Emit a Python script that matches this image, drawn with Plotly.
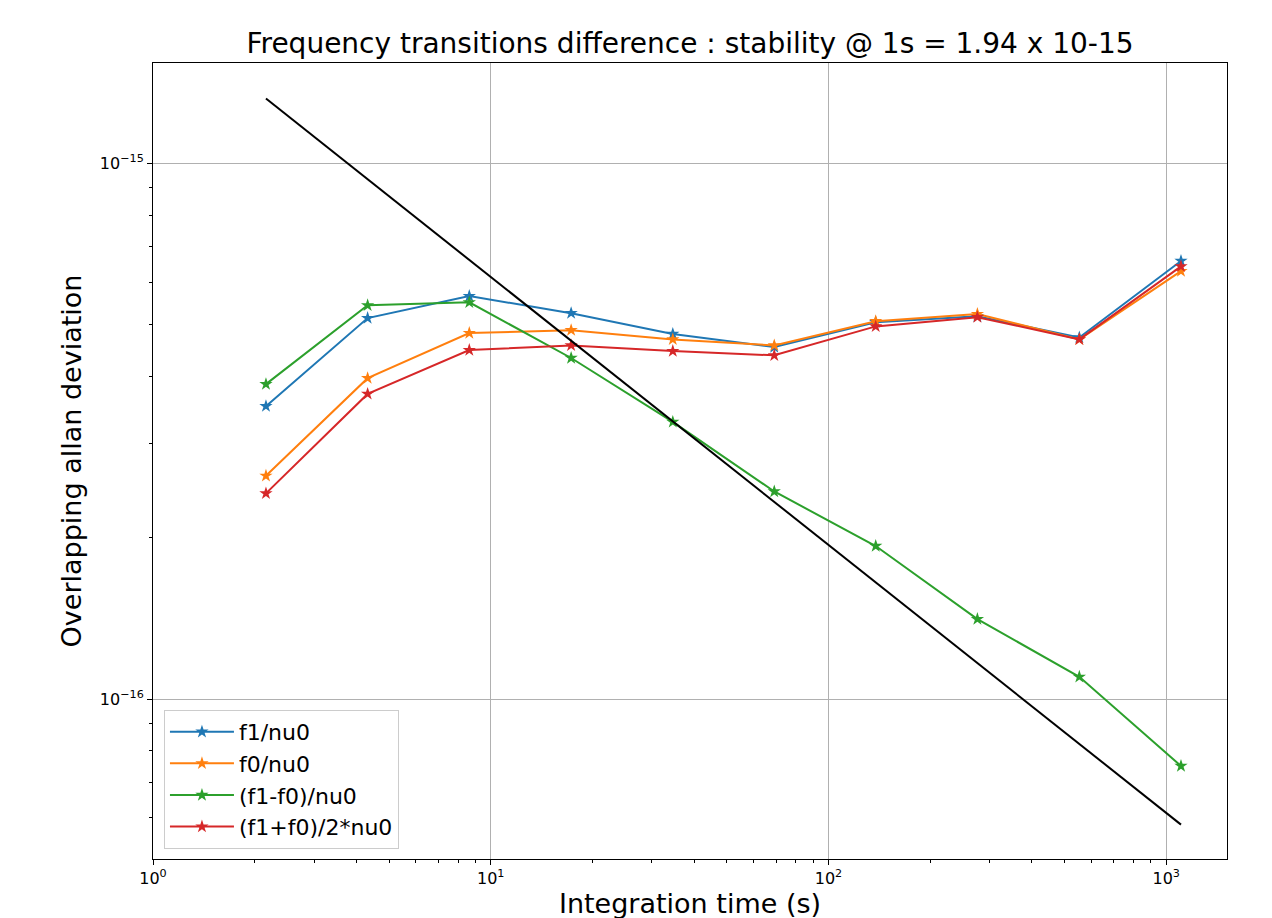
import plotly.graph_objects as go

tau = [2.16, 4.32, 8.64, 17.3, 34.6, 69.1, 138, 276, 553, 1106]
f1_nu0 = [3.52e-16, 5.14e-16, 5.65e-16, 5.25e-16, 4.80e-16, 4.54e-16, 5.05e-16, 5.18e-16, 4.73e-16, 6.57e-16]
f0_nu0 = [2.61e-16, 3.97e-16, 4.82e-16, 4.88e-16, 4.69e-16, 4.57e-16, 5.07e-16, 5.23e-16, 4.69e-16, 6.29e-16]
diff_nu0 = [3.87e-16, 5.43e-16, 5.50e-16, 4.33e-16, 3.29e-16, 2.44e-16, 1.93e-16, 1.41e-16, 1.10e-16, 7.50e-17]
mean_nu0 = [2.42e-16, 3.71e-16, 4.48e-16, 4.57e-16, 4.46e-16, 4.38e-16, 4.96e-16, 5.16e-16, 4.69e-16, 6.42e-16]
fit_tau = [2.16, 1106]
fit_adev = [1.32e-15, 5.83e-17]

names = ["f1/nu0", "f0/nu0", "(f1-f0)/nu0", "(f1+f0)/2*nu0"]
colors = ["#1f77b4", "#ff7f0e", "#2ca02c", "#d62728"]
series = [f1_nu0, f0_nu0, diff_nu0, mean_nu0]

x_ticks = [1, 10, 100, 1000]
x_ticktext = ["10<sup>0</sup>", "10<sup>1</sup>", "10<sup>2</sup>", "10<sup>3</sup>"]
y_ticks = [1e-16, 1e-15]
y_ticktext = ["10<sup>\u221216</sup>", "10<sup>\u221215</sup>"]

fig = go.Figure()
for name, col, ys in zip(names, colors, series):
    fig.add_trace(go.Scatter(x=tau, y=ys, name=name, mode="lines+markers",
                             line=dict(color=col, width=2),
                             marker=dict(symbol="star", size=10, color=col)))
fig.add_trace(go.Scatter(x=fit_tau, y=fit_adev, mode="lines", showlegend=False,
                         line=dict(color="black", width=2)))

x_minor = [m * 10 ** d for d in range(0, 4) for m in range(2, 10) if m * 10 ** d < 1514]
y_minor = [m * 10.0 ** d for d in (-17, -16) for m in range(2, 10) if 5.03e-17 < m * 10.0 ** d < 1.54e-15]

fig.update_layout(
    width=1272, height=918,
    paper_bgcolor="white", plot_bgcolor="white",
    margin=dict(l=145, r=53, t=55, b=67),
    font=dict(family="DejaVu Sans", color="black"),
    title=dict(text="Frequency transitions difference : stability @ 1s = 1.94 x 10-15",
               x=0.5, xanchor="center", xref="paper", y=1 - 35 / 918, yanchor="middle",
               font=dict(size=28)),
    showlegend=True,
    legend=dict(x=0.0102, y=0.0126, xanchor="left", yanchor="bottom",
                bgcolor="rgba(255,255,255,0.8)", bordercolor="#cccccc", borderwidth=1,
                font=dict(size=22), itemwidth=64),
)
fig.update_xaxes(type="log", range=[0, 3.18], tickvals=x_ticks, ticktext=x_ticktext,
                 ticks="outside", ticklen=5, tickwidth=1, tickcolor="black",
                 showgrid=True, gridcolor="#b0b0b0", gridwidth=1,
                 showline=True, linecolor="black", linewidth=1, mirror=True,
                 tickfont=dict(size=16), zeroline=False, automargin=False,
                 minor=dict(tickvals=x_minor, ticks="outside", ticklen=3, tickcolor="black", showgrid=False),
                 title=dict(text="Integration time (s)", font=dict(size=27), standoff=3))
fig.update_yaxes(type="log", range=[-16.2985, -14.813], tickvals=y_ticks, ticktext=y_ticktext,
                 ticks="outside", ticklen=5, tickwidth=1, tickcolor="black",
                 showgrid=True, gridcolor="#b0b0b0", gridwidth=1,
                 showline=True, linecolor="black", linewidth=1, mirror=True,
                 tickfont=dict(size=16), zeroline=False, automargin=False,
                 minor=dict(tickvals=y_minor, ticks="outside", ticklen=3, tickcolor="black", showgrid=False),
                 title=dict(text="Overlapping allan deviation", font=dict(size=27), standoff=10))

fig.write_html("out.html")
